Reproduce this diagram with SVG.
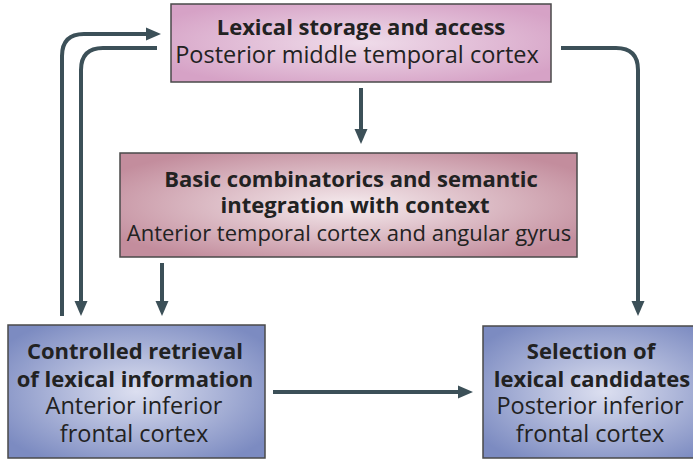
<svg xmlns="http://www.w3.org/2000/svg" width="693" height="461" viewBox="0 0 693 461">
  <defs>
    <radialGradient id="gPink" cx="50%" cy="50%" r="60%">
      <stop offset="0" stop-color="#efdcea"/>
      <stop offset="1" stop-color="#d6a2c6"/>
    </radialGradient>
    <radialGradient id="gRose" cx="50%" cy="50%" r="60%">
      <stop offset="0" stop-color="#f5ebee"/>
      <stop offset="1" stop-color="#c38d9d"/>
    </radialGradient>
    <radialGradient id="gBlue" cx="50%" cy="50%" r="62%">
      <stop offset="0" stop-color="#dcdff0"/>
      <stop offset="1" stop-color="#7c8bc1"/>
    </radialGradient>
    <marker id="head" markerUnits="userSpaceOnUse" markerWidth="15" markerHeight="14" viewBox="0 0 15 14" refX="1" refY="7" orient="auto">
      <path d="M0,0.5 L15,7 L0,13.5 z" fill="#3c5058"/>
    </marker>
    <style>
      .box { stroke: #4a4a4a; stroke-width: 1.5; }
      .t { font-family: "Open Sans", Lato, "Liberation Sans", sans-serif; fill: #222; text-anchor: middle; }
      .b { font-weight: bold; font-size: 22px; }
      .r { font-size: 23.5px; }
      .link { fill: none; stroke: #3c5058; stroke-width: 4; }
    </style>
  </defs>

  <g id="connectors">
    <path class="link" d="M62,316 V56 Q62,34 84,34 H147" marker-end="url(#head)"/>
    <path class="link" d="M157,48 H103 Q81,48 81,70 V302" marker-end="url(#head)"/>
    <path class="link" d="M361,88 V130" marker-end="url(#head)"/>
    <path class="link" d="M162,263 V302" marker-end="url(#head)"/>
    <path class="link" d="M561,48 H616 Q638,48 638,70 V302" marker-end="url(#head)"/>
    <path class="link" d="M273,392 H459" marker-end="url(#head)"/>
  </g>

  <g id="lexical-storage">
    <rect class="box" x="171" y="4" width="380" height="78" fill="url(#gPink)"/>
    <text class="t b" x="361" y="35">Lexical storage and access</text>
    <text class="t r" x="357" y="63">Posterior middle temporal cortex</text>
  </g>

  <g id="combinatorics">
    <rect class="box" x="120" y="153" width="457" height="104" fill="url(#gRose)"/>
    <text class="t b" x="351" y="187">Basic combinatorics and semantic</text>
    <text class="t b" x="355" y="213">integration with context</text>
    <text class="t" x="349" y="241" font-size="22">Anterior temporal cortex and angular gyrus</text>
  </g>

  <g id="controlled-retrieval">
    <rect class="box" x="8" y="325" width="257" height="133" fill="url(#gBlue)"/>
    <text class="t b" x="135" y="359">Controlled retrieval</text>
    <text class="t b" x="135" y="387">of lexical information</text>
    <text class="t r" x="134" y="414">Anterior inferior</text>
    <text class="t r" x="134" y="442">frontal cortex</text>
  </g>

  <g id="selection">
    <rect class="box" x="483" y="326" width="242" height="132" fill="url(#gBlue)"/>
    <text class="t b" x="591" y="359">Selection of</text>
    <text class="t b" x="592" y="387">lexical candidates</text>
    <text class="t r" x="590" y="414">Posterior inferior</text>
    <text class="t r" x="590" y="442">frontal cortex</text>
  </g>
</svg>
